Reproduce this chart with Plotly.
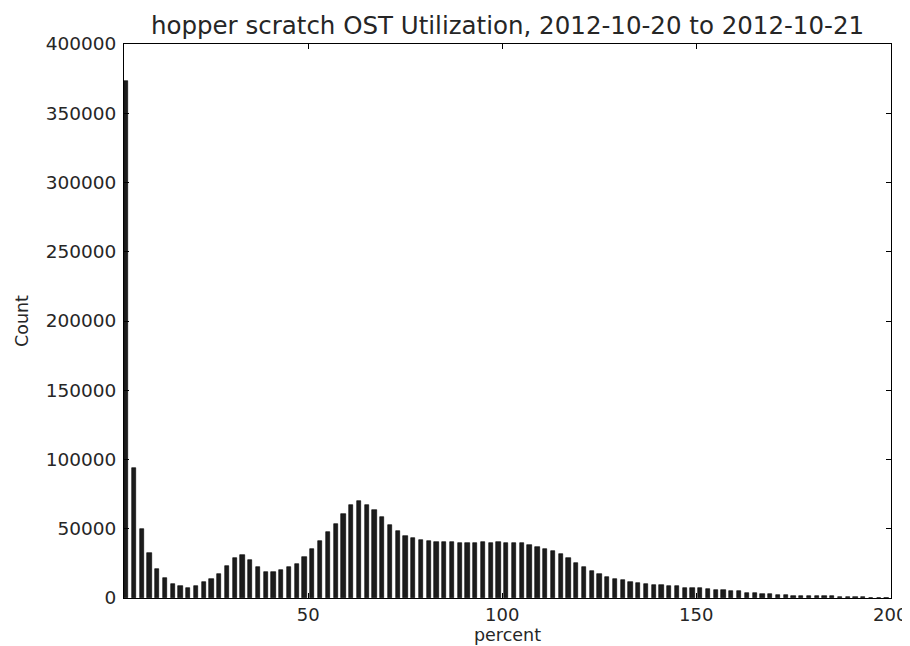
import numpy as np
import plotly.graph_objects as go

# Histogram counts, one per 2-percent bin starting at 2.5 %
counts = [
    373000, 94000, 49500, 32400, 21200, 14400, 10300, 8700, 7500, 8700,
    11500, 13500, 17300, 23300, 28800, 31300, 27600, 22100, 18800, 18800,
    20000, 22100, 24800, 29600, 35300, 41400, 47400, 53400, 60600, 67300,
    69700, 67300, 63700, 58400, 52400, 48600, 44500, 43500, 42100, 41100,
    40200, 40200, 40200, 39400, 39400, 39400, 40400, 39400, 40400, 39700,
    39400, 39400, 38500, 37000, 35300, 33700, 31500, 28600, 25500, 22600,
    19700, 17100, 15000, 13800, 12700, 11500, 11000, 9900, 9600, 9100,
    8900, 8600, 7500, 7200, 7000, 6700, 5800, 5800, 5300, 4800,
    3900, 3300, 3000, 2700, 2500, 2300, 1800, 1500, 1400, 1300,
    1200, 1100, 1000, 900, 800, 700, 0, 0, 0,
]
bin_start = 2.5
bin_width = 2.0
bin_left = [bin_start + bin_width * i for i in range(len(counts))]

x_ticks = [50, 100, 150, 200]
y_ticks = [0, 50000, 100000, 150000, 200000, 250000, 300000, 350000, 400000]

title_text = "hopper scratch OST Utilization, 2012-10-20 to 2012-10-21"
x_label = "percent"
y_label = "Count"

FONT = "DejaVu Sans"
TXT = "#262626"

# the page body adds an 8px offset, so the figure is 8px smaller than the window
W, H = 902, 638

fig = go.Figure()
fig.add_trace(go.Bar(
    x=bin_left,
    y=counts,
    width=bin_width * 0.55,
    offset=0,
    marker=dict(color="#1c1c1c", line=dict(color="#000000", width=0.6)),
    showlegend=False,
))

fig.update_layout(
    width=W, height=H,
    margin=dict(l=116, r=19, t=36, b=48, pad=0, autoexpand=False),
    paper_bgcolor="white", plot_bgcolor="white",
    font=dict(family=FONT, size=18, color=TXT),
    bargap=0,
    title=dict(text=title_text, x=0.5, xref="paper", xanchor="center",
               y=1 - 17 / H, yref="container", yanchor="middle",
               font=dict(family=FONT, size=24.5, color=TXT)),
)
fig.update_xaxes(
    range=[bin_start, 200.2], tickvals=x_ticks, ticktext=[str(v) for v in x_ticks],
    ticks="inside", ticklen=5, tickcolor="#000", showline=True, linecolor="#000",
    linewidth=1, mirror="ticks", showgrid=False, zeroline=False, automargin=False,
    title=dict(text=x_label, font=dict(family=FONT, size=17.5, color=TXT), standoff=1),
    tickfont=dict(family=FONT, size=18, color=TXT),
)
fig.update_yaxes(
    range=[0, 400000], tickvals=y_ticks, ticktext=[str(v) for v in y_ticks],
    ticks="inside", ticklen=5, tickcolor="#000", showline=True, linecolor="#000",
    linewidth=1, mirror="ticks", showgrid=False, zeroline=False, automargin=False,
    ticklabelstandoff=3,
    title=dict(text=y_label, font=dict(family=FONT, size=17.5, color=TXT), standoff=12),
    tickfont=dict(family=FONT, size=18.5, color=TXT),
)

fig.write_html("out.html")
